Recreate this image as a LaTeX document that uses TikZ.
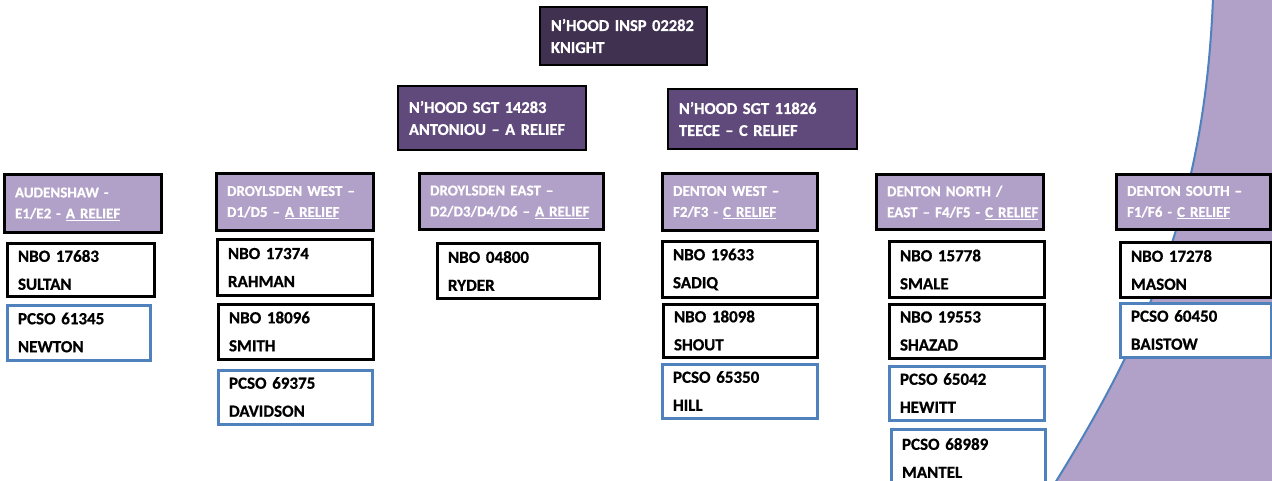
\documentclass[tikz,border=0pt]{standalone}
\usepackage{fontspec}
\setmainfont{Carlito}[WordSpace=0.6, BoldFeatures={FakeBold=0.7}]
\definecolor{inspfill}{HTML}{403151}
\definecolor{sgtfill}{HTML}{604A7B}
\definecolor{areafill}{HTML}{B1A0C7}
\definecolor{pcsoblue}{HTML}{4F81BD}
\tikzset{
  base/.style={rectangle, inner xsep=11pt, inner ysep=0pt, align=left, anchor=center},
  topbox/.style={base, draw=black, line width=2.5pt, text=white,
    font={\fontsize{16.5}{22}\selectfont\bfseries}},
  inspbox/.style={topbox, fill=inspfill},
  sgtbox/.style={topbox, fill=sgtfill},
  areabox/.style={base, draw=black, line width=3pt, fill=areafill, text=white,
    font={\fontsize{15}{21}\selectfont\bfseries}},
  nbobox/.style={base, draw=black, line width=3pt, fill=white, text=black,
    font={\fontsize{17}{28}\selectfont\bfseries}},
  pcsobox/.style={nbobox, draw=pcsoblue},
  sz/.style n args={2}{minimum width=#1pt, minimum height=#2pt, text width=#1pt-22pt}
}
\newcommand{\ul}[1]{\underline{#1}}
\begin{document}
\begin{tikzpicture}[x=1pt,y=-1pt]
\useasboundingbox (0,0) rectangle (1272,481);
\clip (0,0) rectangle (1272,481);
% background curved shape
\fill[areafill] (1213,-2) .. controls (1205,200) and (1150,330) .. (1055,483) -- (1280,483) -- (1280,-2) -- cycle;
\draw[pcsoblue, line width=2pt] (1213,-2) .. controls (1205,200) and (1150,330) .. (1055,483);
% top
\node[inspbox, sz={167}{58}] (insp) at (623.5,36) {\mbox{N’HOOD INSP 02282}\\KNIGHT};
\node[sgtbox, sz={188}{64}] (sgta) at (492,118) {\mbox{N’HOOD SGT 14283}\\\mbox{ANTONIOU – A RELIEF}};
\node[sgtbox, sz={189}{60}] (sgtc) at (762.5,119) {\mbox{N’HOOD SGT 11826}\\\mbox{TEECE – C RELIEF}};
% area headers
\node[areabox, sz={157}{58}] (aud) at (82.5,204) {\mbox{AUDENSHAW -}\\\mbox{E1/E2 - \ul{A RELIEF}}};
\node[areabox, sz={157}{57}] (dw) at (294.5,202.5) {\mbox{DROYLSDEN WEST –}\\\mbox{D1/D5 – \ul{A RELIEF}}};
\node[areabox, sz={184}{56}] (de) at (511,202) {\mbox{DROYLSDEN EAST –}\\\mbox{D2/D3/D4/D6 – \ul{A RELIEF}}};
\node[areabox, sz={155}{57}] (denw) at (739.5,202.5) {\mbox{DENTON WEST –}\\\mbox{F2/F3 - \ul{C RELIEF}}};
\node[areabox, sz={167}{55}] (denn) at (959.5,202.5) {\mbox{DENTON NORTH /}\\\mbox{EAST – F4/F5 - \ul{C RELIEF}}};
\node[areabox, sz={154}{55}] (dens) at (1193,202.5) {\mbox{DENTON SOUTH –}\\\mbox{F1/F6 - \ul{C RELIEF}}};
% officers
\node[nbobox, sz={147}{52}] (sultan) at (80.5,270) {NBO 17683\\SULTAN};
\node[pcsobox, sz={143}{55}] (newton) at (78.5,332.5) {PCSO 61345\\NEWTON};
\node[nbobox, sz={155}{55}] (rahman) at (294.5,267.5) {NBO 17374\\RAHMAN};
\node[nbobox, sz={155}{55}] (smith) at (295.5,331.5) {NBO 18096\\SMITH};
\node[pcsobox, sz={154}{54}] (davidson) at (295,397) {PCSO 69375\\DAVIDSON};
\node[nbobox, sz={162}{54}] (ryder) at (518,271) {NBO 04800\\RYDER};
\node[nbobox, sz={155}{55}] (sadiq) at (739.5,269.5) {NBO 19633\\SADIQ};
\node[nbobox, sz={154}{53}] (shout) at (740,330.5) {NBO 18098\\SHOUT};
\node[pcsobox, sz={155}{54}] (hill) at (739.5,391) {PCSO 65350\\HILL};
\node[nbobox, sz={155}{55}] (smale) at (966.5,269.5) {NBO 15778\\SMALE};
\node[nbobox, sz={155}{54}] (shazad) at (966.5,331) {NBO 19553\\SHAZAD};
\node[pcsobox, sz={155}{54}] (hewitt) at (966.5,393) {PCSO 65042\\HEWITT};
\node[pcsobox, sz={154}{58}] (mantel) at (968,458) {PCSO 68989\\MANTEL};
\node[nbobox, sz={151}{54}] (mason) at (1195.5,270) {NBO 17278\\MASON};
\node[pcsobox, sz={151}{54}] (baistow) at (1195.5,330) {PCSO 60450\\BAISTOW};
\end{tikzpicture}
\end{document}
